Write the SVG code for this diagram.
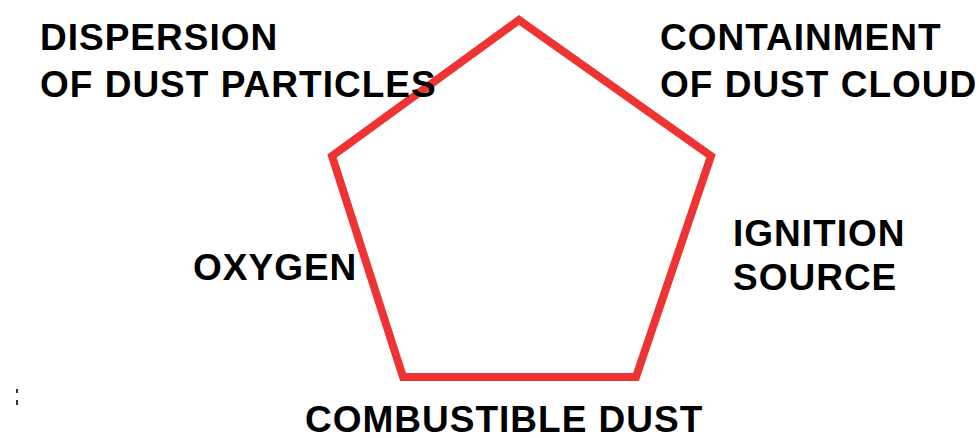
<svg xmlns="http://www.w3.org/2000/svg" width="979" height="438" viewBox="0 0 979 438">
<style>
.lbl{font-family:"Liberation Sans",Arial,sans-serif;font-weight:bold;font-size:37px;fill:#000;letter-spacing:1px}
.edge{fill:none;stroke:#ee3333;stroke-width:8;stroke-linejoin:miter}
</style>
<rect width="979" height="438" fill="#fff"/>
<g id="connectors">
<polygon class="edge" points="519,20 711,156 636,377 403,377 332,156"/>
</g>
<g id="dispersion"><text class="lbl" x="40" y="50">DISPERSION</text><text class="lbl" x="40" y="97">OF DUST PARTICLES</text></g>
<g id="containment"><text class="lbl" x="660" y="50">CONTAINMENT</text><text class="lbl" x="660" y="97">OF DUST CLOUD</text></g>
<g id="ignition"><text class="lbl" x="733" y="246">IGNITION</text><text class="lbl" x="733" y="290">SOURCE</text></g>
<g id="oxygen"><text class="lbl" x="193" y="280">OXYGEN</text></g>
<g id="dust"><text class="lbl" x="305" y="432">COMBUSTIBLE DUST</text></g>
<g id="mark" fill="#334"><rect x="16" y="389" width="2" height="4"/><rect x="16" y="400" width="2" height="5"/></g>
</svg>
